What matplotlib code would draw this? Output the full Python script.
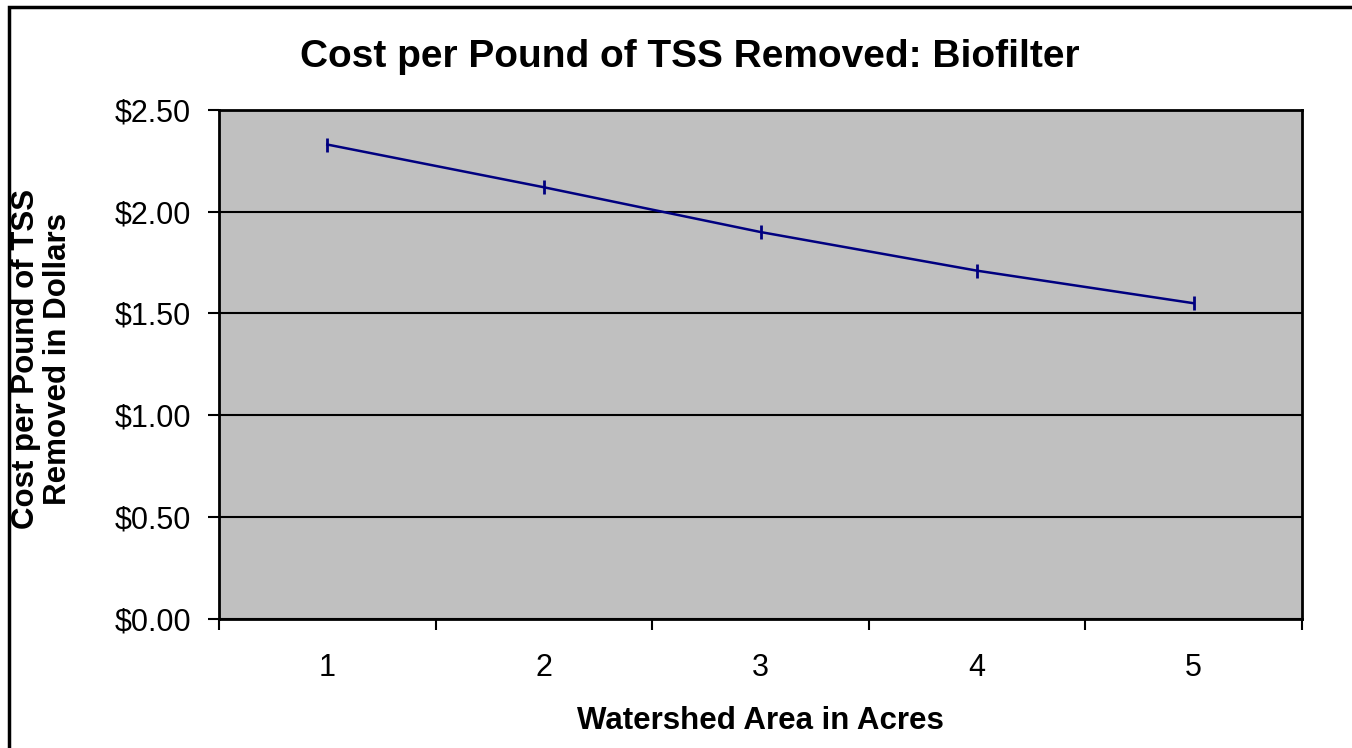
import matplotlib.pyplot as plt
from matplotlib.patches import Rectangle
from matplotlib.ticker import FixedLocator, FuncFormatter

# watershed area (acres) vs. cost per pound of TSS removed
acres = [1, 2, 3, 4, 5]
cost = [2.33, 2.12, 1.90, 1.71, 1.55]
yticks = [0.0, 0.5, 1.0, 1.5, 2.0, 2.5]

plt.rcParams['font.family'] = ['Liberation Sans', 'DejaVu Sans']

fig = plt.figure(figsize=(13.52, 7.48), dpi=100)
ax = fig.add_axes([0.162, 0.173, 0.801, 0.680])

xs = list(range(len(acres)))
ax.set_facecolor('#c0c0c0')
ax.plot(xs, cost, color='#000080', linewidth=1.8, marker='|',
        markersize=10, markeredgewidth=2, zorder=3)

ax.set_xlim(-0.5, len(acres) - 0.5)
ax.set_ylim(0, 2.5)
ax.set_yticks(yticks)
ax.yaxis.set_major_formatter(FuncFormatter(lambda v, p: '${:.2f}'.format(v)))
ax.grid(axis='y', color='black', linewidth=1.5)
ax.set_axisbelow(True)

ax.set_xticks(xs)
ax.set_xticklabels([str(a) for a in acres])
ax.xaxis.set_minor_locator(FixedLocator([i - 0.5 for i in range(len(acres) + 1)]))
ax.tick_params(axis='x', which='major', length=0, labelsize=22, pad=25)
ax.tick_params(axis='x', which='minor', length=8, width=1.5, direction='out')
ax.tick_params(axis='y', length=8, width=1.5, labelsize=22, pad=12)

for s in ax.spines.values():
    s.set_color('black')
    s.set_linewidth(2)

fig.text(0.510, 1 - 57 / 748, 'Cost per Pound of TSS Removed: Biofilter',
         fontsize=28, fontweight='bold', ha='center', va='center')
ax.set_xlabel('Watershed Area in Acres', fontsize=22.5, fontweight='bold')
ax.xaxis.set_label_coords(0.5, -0.171)
ax.set_ylabel('Cost per Pound of TSS\nRemoved in Dollars', fontsize=22.5,
              fontweight='bold', linespacing=1.08)
ax.yaxis.set_label_coords(-0.135, 0.51)

# chart frame
fig.patches.append(Rectangle((9 / 1352, -0.1), 1.2, 1.1 - 7 / 748,
                             transform=fig.transFigure, fill=False,
                             edgecolor='black', linewidth=2.5))

fig.savefig('out.png', dpi=100)
